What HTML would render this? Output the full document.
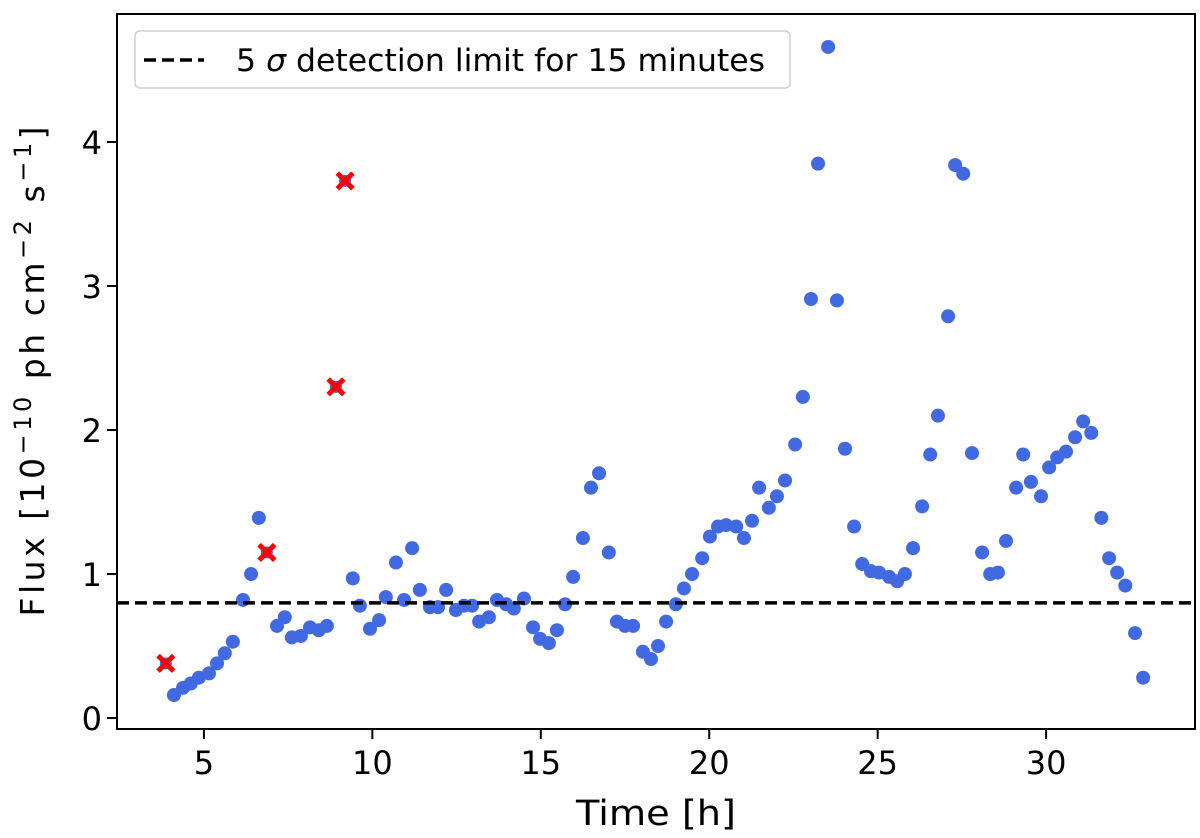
<!DOCTYPE html>
<html><head><meta charset="utf-8"><style>
html,body{margin:0;padding:0;background:#fff;}
svg{display:block;font-family:"DejaVu Sans","Liberation Sans",sans-serif;}
</style></head><body>
<svg id="chart" width="1200" height="838" viewBox="0 0 1200 838">
<g id="axes"></g>
<g id="marks"></g>
<g id="legend">
<rect x="135" y="31" width="655" height="57" rx="5" fill="#fff" fill-opacity="0.85" stroke="#d0d0d0" stroke-width="1.5"/>
<line x1="144" y1="60" x2="204" y2="60" stroke="#000" stroke-width="3.5" stroke-dasharray="12,6"/>
<text x="236" y="71" font-size="31.5" fill="#000">5 <tspan font-style="italic">σ</tspan> detection limit for 15 minutes</text>
</g>
</svg>
<script>
const times=[4.11,4.38,4.61,4.85,5.15,5.39,5.62,5.86,6.16,6.40,6.63,7.17,7.40,7.61,7.88,8.15,8.41,8.65,9.42,9.63,9.93,10.20,10.40,10.70,10.94,11.18,11.41,11.71,11.95,12.19,12.48,12.72,12.96,13.17,13.46,13.70,13.97,14.20,14.50,14.77,14.98,15.24,15.48,15.72,15.96,16.25,16.49,16.73,17.02,17.26,17.50,17.74,18.03,18.27,18.48,18.72,19.01,19.25,19.49,19.79,20.02,20.26,20.50,20.80,21.03,21.27,21.48,21.77,22.01,22.25,22.55,22.78,23.02,23.23,23.53,23.79,24.03,24.30,24.54,24.80,25.04,25.34,25.58,25.81,26.05,26.32,26.56,26.79,27.09,27.30,27.54,27.80,28.10,28.34,28.57,28.81,29.11,29.32,29.55,29.85,30.09,30.33,30.59,30.86,31.10,31.34,31.64,31.87,32.11,32.35,32.64,32.88];
const flux=[0.16,0.21,0.24,0.28,0.31,0.38,0.45,0.53,0.82,1.00,1.39,0.64,0.70,0.56,0.57,0.63,0.61,0.64,0.97,0.78,0.62,0.68,0.84,1.08,0.82,1.18,0.89,0.77,0.77,0.89,0.75,0.78,0.78,0.67,0.70,0.82,0.79,0.76,0.83,0.63,0.55,0.52,0.61,0.79,0.98,1.25,1.60,1.70,1.15,0.67,0.64,0.64,0.46,0.41,0.50,0.67,0.79,0.90,1.00,1.11,1.26,1.33,1.34,1.33,1.25,1.37,1.60,1.46,1.54,1.65,1.90,2.23,2.91,3.85,4.66,2.90,1.87,1.33,1.07,1.02,1.01,0.98,0.95,1.00,1.18,1.47,1.83,2.10,2.79,3.84,3.78,1.84,1.15,1.00,1.01,1.23,1.60,1.83,1.64,1.54,1.74,1.81,1.85,1.95,2.06,1.98,1.39,1.11,1.01,0.92,0.59,0.28];
const flaggedTimes=[3.87,6.87,8.92,9.19];
const flaggedFlux=[0.38,1.15,2.30,3.73];
const detectionLimit=[0.8];
const xTicks=[5,10,15,20,25,30];
const yTicks=[0,1,2,3,4];

const L=117,R=1195,T=14,B=729;
const xMin=2.42,xMax=34.42,yMin=-0.076,yMax=4.889;
const X=v=>L+(v-xMin)/(xMax-xMin)*(R-L);
const Y=v=>B-(v-yMin)/(yMax-yMin)*(B-T);
const NS='http://www.w3.org/2000/svg';
function mk(tag,attrs,parent){const e=document.createElementNS(NS,tag);for(const k in attrs)e.setAttribute(k,attrs[k]);parent.appendChild(e);return e;}
const axes=document.getElementById('axes'),marks=document.getElementById('marks');

xTicks.forEach(t=>{
  const l=mk('line',{x1:X(t),x2:X(t),y1:B,y2:B+10,stroke:'#000','stroke-width':2},axes);
  
  
  const tx=mk('text',{x:X(t),y:B+45,'font-size':32,'text-anchor':'middle',fill:'#000'},axes);
  tx.textContent=t;
  
  
});
yTicks.forEach(t=>{
  const l=mk('line',{x1:L-10,x2:L,y1:Y(t),y2:Y(t),stroke:'#000','stroke-width':2},axes);
  
  
  const tx=mk('text',{x:L-15,y:Y(t)+12,'font-size':32,'text-anchor':'end',fill:'#000'},axes);
  tx.textContent=t;
  
  
});
const xl=mk('text',{x:(L+R)/2,y:825,'font-size':35,'text-anchor':'middle',fill:'#000',textLength:160,lengthAdjust:'spacingAndGlyphs'},axes);
xl.textContent='Time [h]';


const yl=mk('text',{x:0,y:0,'font-size':33,'text-anchor':'middle',fill:'#000',textLength:490,lengthAdjust:'spacing',transform:'translate(44,'+((T+B)/2)+') rotate(-90)'},axes);
yl.innerHTML='Flux [10<tspan dy="-13" font-size="24">−10</tspan><tspan dy="13"> ph cm</tspan><tspan dy="-13" font-size="24">−2</tspan><tspan dy="13"> s</tspan><tspan dy="-13" font-size="24">−1</tspan><tspan dy="13">]</tspan>';



times.forEach((t,i)=>{
  const c=mk('circle',{cx:X(t),cy:Y(flux[i]),r:7,fill:'#4169e1'},marks);
  
  
});
flaggedTimes.forEach((t,i)=>{
  const cx=X(t),cy=Y(flaggedFlux[i]);
  const c=mk('circle',{cx:cx,cy:cy,r:6,fill:'#4169e1'},marks);
  
  
  const p=mk('path',{d:`M${cx-6},${cy-6}L${cx+6},${cy+6}M${cx-6},${cy+6}L${cx+6},${cy-6}`,stroke:'#ff0000','stroke-width':5,'stroke-linecap':'square',fill:'none'},marks);
  
  
});
detectionLimit.forEach(v=>{
  const l=mk('line',{x1:L,x2:R,y1:Y(v),y2:Y(v),stroke:'#000','stroke-width':3.5,'stroke-dasharray':'12,6'},marks);
  
  
});
const fr=mk('rect',{x:L,y:T,width:R-L,height:B-T,fill:'none',stroke:'#000','stroke-width':2},axes);


</script>
</body></html>
